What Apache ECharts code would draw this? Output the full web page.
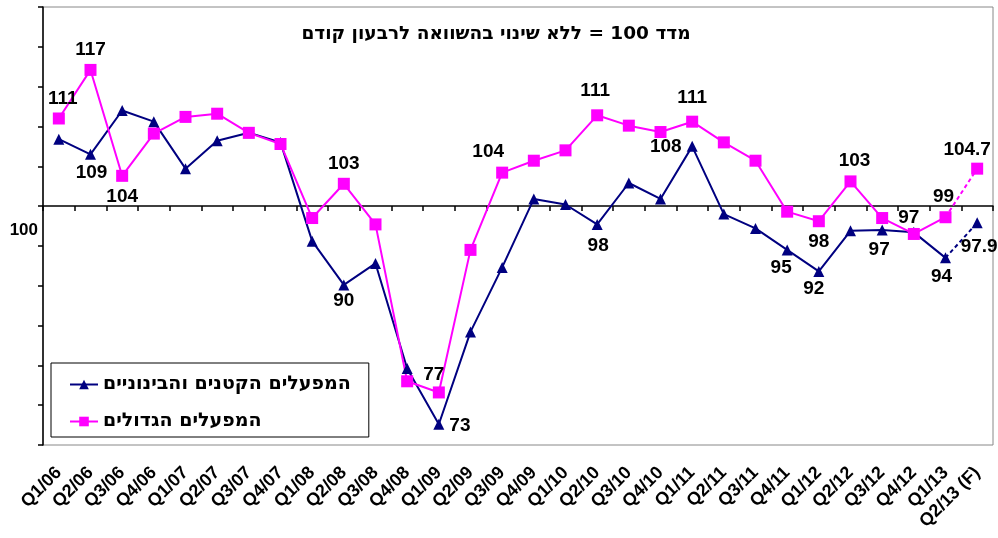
<!DOCTYPE html>
<html>
<head>
<meta charset="utf-8">
<script src="https://cdn.jsdelivr.net/npm/echarts/dist/echarts.min.js"></script>
<style>
    html,body{margin:0;padding:0;background:#fff;}
    #demo{width:998px;height:538px;}
</style>
</head>
<body>
<div id="demo"></div>
<script>
var categories=['Q1/06','Q2/06','Q3/06','Q4/06','Q1/07','Q2/07','Q3/07','Q4/07',
    'Q1/08','Q2/08','Q3/08','Q4/08','Q1/09','Q2/09','Q3/09','Q4/09',
    'Q1/10','Q2/10','Q3/10','Q4/10','Q1/11','Q2/11','Q3/11','Q4/11',
    'Q1/12','Q2/12','Q3/12','Q4/12','Q1/13','Q2/13 (F)'];

// המפעלים הקטנים והבינוניים
var smallValues=[108.4,106.5,112.0,110.6,104.7,108.2,109.2,108.0,
    95.6,90.1,92.8,79.6,72.6,84.2,92.3,100.9,
    100.2,97.7,102.9,100.9,107.5,99.0,97.2,94.5,
    91.8,96.9,97.0,96.7,93.5,97.9];
var smallLabels=['','109','','','','','','',
    '','90','','','73','','','',
    '','98','','','108','','','95',
    '92','','97','','94','97.9'];

// המפעלים הגדולים
var largeValues=[111.0,117.1,103.8,109.1,111.2,111.6,109.2,107.8,
    98.5,102.8,97.7,78.0,76.6,94.5,104.2,105.7,
    107.0,111.4,110.1,109.3,110.6,108.0,105.7,99.3,
    98.1,103.1,98.5,96.5,98.6,104.7];
var largeLabels=['111','117','104','','','','','',
    '','103','','','77','','104','',
    '','111','','','111','','','',
    '98','103','','97','99','104.7'];

var yTicks=[70,125,5];
var smallName='המפעלים הקטנים והבינוניים';
var largeName='המפעלים הגדולים';
var subTitle='מדד 100 = ללא שינוי בהשוואה לרבעון קודם';

var FONT="'Liberation Sans', Arial, sans-serif";
var HEB_FONT="'DejaVu Sans', sans-serif";

var app={
    init : function(){
        // מיקום התוויות ליד הנקודות
        this.smallPlace={1:['bottom',[1,-2]],9:['bottom',[0,-4]],12:['right',[0,1]],17:['bottom',[1,1]],
            20:['left',[0,0]],23:['bottom',[-6,-2]],24:['bottom',[-5,-3]],26:['bottom',[-3,0]],
            28:['bottom',[-4,-1]],29:['bottom',[2,4]]};
        this.largePlace={0:['top',[4,1]],1:['top',[0,0]],2:['bottom',[0,0]],9:['top',[0,0]],
            12:['top',[-5,3]],14:['top',[-14,0]],17:['top',[-2,-4]],20:['top',[0,-3]],
            24:['bottom',[0,0]],25:['top',[4,0]],27:['top',[-5,4]],28:['top',[-2,0]],29:['top',[-10,2]]};
        this.render();
    },
    // from..to = טווח הנקודות, noSymbol = נקודה בלי סמל
    makeData : function(values,labels,place,from,to,noSymbol){
        var out=[];
        for(var i=0;i<values.length;i++){
            if(i<from || i>to){ out.push(null); continue; }
            var item={value:values[i]};
            if(i===noSymbol){
                item.symbol='none';
            }else if(labels[i]!==''){
                var p=place[i] || ['top',[0,0]];
                item.label={show:true,formatter:labels[i],position:p[0],offset:p[1]};
            }
            out.push(item);
        }
        return out;
    },
    lineSeries : function(name,color,symbol,size,data,dashed){
        return {
            name:name,
            type:'line',
            xAxisIndex:0,
            yAxisIndex:0,
            symbol:symbol,
            symbolSize:size,
            showAllSymbol:true,
            connectNulls:false,
            animation:false,
            lineStyle:{color:color,width:2,type:dashed ? [4,3] : 'solid'},
            itemStyle:{color:color},
            label:{show:false,color:'#000',fontFamily:FONT,fontWeight:'bold',fontSize:19},
            emphasis:{disabled:true},
            data:data
        };
    },
    render : function(){
        var n=categories.length;
        var dom=document.getElementById('demo');
        var myChart=echarts.init(dom,null,{renderer:'canvas'});
        var option={
            animation:false,
            title:{
                text:subTitle,
                left:491,
                top:20,
                textAlign:'center',
                textStyle:{color:'#000',fontFamily:HEB_FONT,fontWeight:'bold',fontSize:18.5}
            },
            legend:{
                data:[smallName,largeName],
                orient:'vertical',
                left:51,
                top:363,
                itemWidth:28,
                itemHeight:12,
                itemGap:18,
                padding:[12,18,6,18],
                backgroundColor:'#fff',
                borderColor:'#000',
                borderWidth:1,
                borderRadius:0,
                textStyle:{color:'#000',fontFamily:HEB_FONT,fontWeight:'bold',fontSize:19}
            },
            grid:[
                {left:43,right:5,top:7,bottom:93,show:true,borderColor:'#888',borderWidth:1,backgroundColor:'transparent'},
                {left:43,right:5,top:7,height:199.1}
            ],
            xAxis:[
                {
                    type:'category',
                    gridIndex:0,
                    data:categories,
                    boundaryGap:true,
                    axisLine:{show:false},
                    axisTick:{show:false},
                    axisLabel:{
                        interval:0,
                        rotate:45,
                        margin:25,
                        color:'#000',
                        fontFamily:FONT,
                        fontWeight:'bold',
                        fontSize:18
                    }
                },
                {
                    type:'category',
                    gridIndex:1,
                    data:categories,
                    boundaryGap:true,
                    axisLine:{show:true,lineStyle:{color:'#000',width:1.5}},
                    axisTick:{show:true,interval:0,length:5,lineStyle:{color:'#000',width:1.5}},
                    axisLabel:{show:false}
                }
            ],
            yAxis:[
                {
                    type:'value',
                    gridIndex:0,
                    min:yTicks[0],
                    max:yTicks[1],
                    interval:yTicks[2],
                    splitLine:{show:false},
                    axisLine:{show:true,lineStyle:{color:'#000',width:1.5}},
                    axisTick:{show:true,length:5,lineStyle:{color:'#000',width:1.5}},
                    axisLabel:{
                        margin:5,
                        verticalAlign:'top',
                        padding:[16,0,0,0],
                        color:'#000',
                        fontFamily:FONT,
                        fontWeight:'bold',
                        fontSize:17,
                        formatter:function(v){ return v===100 ? '100' : ''; }
                    }
                },
                {
                    type:'value',
                    gridIndex:1,
                    min:0,
                    max:1,
                    show:false
                }
            ],
            series:[
                this.lineSeries(smallName,'#000080','triangle',11,
                    this.makeData(smallValues,smallLabels,this.smallPlace,0,n-2,-1),false),
                this.lineSeries(smallName+' (F)','#000080','triangle',11,
                    this.makeData(smallValues,smallLabels,this.smallPlace,n-2,n-1,n-2),true),
                this.lineSeries(largeName,'#ff00ff','rect',12,
                    this.makeData(largeValues,largeLabels,this.largePlace,0,n-2,-1),false),
                this.lineSeries(largeName+' (F)','#ff00ff','rect',12,
                    this.makeData(largeValues,largeLabels,this.largePlace,n-2,n-1,n-2),true)
            ]
        };
        myChart.setOption(option,true);
    }
};

app.init();
</script>
</body>
</html>
